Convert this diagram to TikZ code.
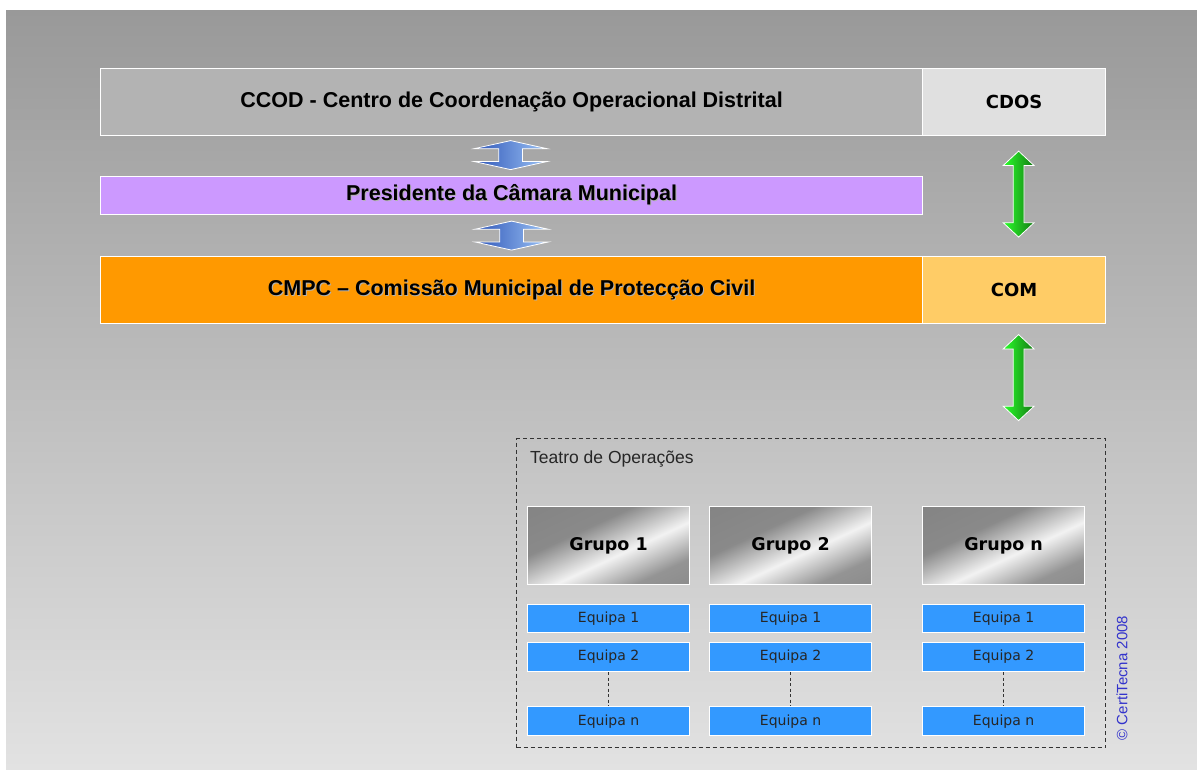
\documentclass[tikz,border=0pt]{standalone}
\usepackage{fontspec}
\setmainfont{Liberation Sans}
\newfontfamily\verdana{DejaVu Sans}
\usetikzlibrary{shapes.arrows, positioning, calc}

\definecolor{ccodgray}{HTML}{B3B3B3}
\definecolor{cdosgray}{HTML}{E0E0E0}
\definecolor{presviolet}{HTML}{CC99FF}
\definecolor{cmpcorange}{HTML}{FF9900}
\definecolor{comyellow}{HTML}{FFCC66}
\definecolor{equipablue}{HTML}{3399FF}
\definecolor{darkgreen}{HTML}{147A14}
\definecolor{lightgreen}{HTML}{2BFF2B}
\definecolor{lightblue}{HTML}{9CC3F5}
\definecolor{darkblue}{HTML}{2F56B8}
\definecolor{copyblue}{HTML}{3333CC}
\definecolor{bgtop}{HTML}{999999}
\definecolor{bgbottom}{HTML}{E2E2E2}

\pgfdeclarehorizontalshading{grupo}{100bp}{color(0bp)=(black!50); color(38bp)=(black!46);
  color(56bp)=(black!5); color(72bp)=(black!42); color(100bp)=(black!50)}

\newcommand{\shadowed}[1]{\makebox[0pt][l]{\kern1pt\raisebox{-1pt}{\textcolor{black!30}{#1}}}#1}

\begin{document}
\begin{tikzpicture}[x=1pt, y=-1pt, inner sep=0pt,
 main box/.style={draw=white, line width=1.2pt, anchor=north west, minimum height=67pt,
   font=\fontsize{21.5}{24}\selectfont\bfseries},
 side box/.style={main box, minimum width=183pt, font=\verdana\fontsize{18}{21}\selectfont\bfseries},
 blue arrow/.style={double arrow, rotate=90, draw=white, line width=0.8pt, left color=darkblue,
   right color=lightblue, minimum height=29pt, inner ysep=11.5pt, inner xsep=0pt,
   double arrow head extend=24.5pt, double arrow tip angle=155},
 green arrow/.style={double arrow, rotate=90, draw=white, line width=0.8pt, left color=lightgreen,
   right color=darkgreen, minimum height=86pt, inner ysep=5pt, inner xsep=0pt,
   double arrow head extend=10pt, double arrow tip angle=94},
 grupo box/.style={draw=white, line width=1.2pt, anchor=north west, minimum width=162pt,
   minimum height=78pt, shading=grupo, shading angle=-65,
   font=\verdana\fontsize{17.5}{20}\selectfont\bfseries},
 equipa box/.style={draw=white, line width=1.2pt, fill=equipablue, minimum width=162pt,
   text=black!85, font=\verdana\fontsize{14}{16}\selectfont}]

  \fill[white] (0,0) rectangle (1197,769);
  \shade[top color=bgtop, bottom color=bgbottom] (6,10) rectangle (1197,769);

  % top rows
  \node[main box, fill=ccodgray, minimum width=822pt] (ccod) at (100,68)
    {\shadowed{CCOD - Centro de Coordenação Operacional Distrital}};
  \node[side box, fill=cdosgray] (cdos) at (922,68) {CDOS};
  \node[main box, fill=presviolet, minimum width=822pt, minimum height=38pt] (pres) at (100,176)
    {\shadowed{Presidente da Câmara Municipal}};
  \node[main box, fill=cmpcorange, minimum width=822pt] (cmpc) at (100,256)
    {\shadowed{CMPC – Comissão Municipal de Protecção Civil}};
  \node[side box, fill=comyellow] (com) at (922,256) {COM};

  % teatro de operacoes
  \node[draw=black!80, line width=1.1pt, dash pattern=on 4pt off 3pt, anchor=north west,
    minimum width=589pt, minimum height=309pt] (teatro) at (516,438) {};
  \node[anchor=base west, font=\fontsize{17.5}{20}\selectfont, text=black!85] (teatrolabel)
    at (530,463) {Teatro de Operações};

  % arrows
  \node[blue arrow] (up1) at ($(ccod.south)!0.5!(pres.north)+(-1,-1)$) {};
  \node[blue arrow] (up2) at ($(pres.south)!0.5!(cmpc.north)$) {};
  \node[green arrow] (gr1) at ($(cdos.south)!0.5!(com.north)+(4.5,-2)$) {};
  \node[green arrow] (gr2) at ($(com.south)!0.5!(teatro.north -| com.south)+(4.5,-3.5)$) {};

  % grupos e equipas
  \foreach \i/\x/\t in {1/527/1, 2/709/2, 3/922/n} {
    \node[grupo box] (grupo\i) at (\x,506) {Grupo \t};
    \node[equipa box, minimum height=28pt, below=18.5pt of grupo\i] (eqa\i) {Equipa 1};
    \node[equipa box, minimum height=29pt, below=9pt of eqa\i] (eqb\i) {Equipa 2};
    \node[equipa box, minimum height=29pt, below=34pt of eqb\i] (eqn\i) {Equipa n};
    \draw[black!80, line width=1pt, dash pattern=on 3pt off 2.5pt] (eqb\i.south) -- (eqn\i.north);
  }

  \node[rotate=90, text=copyblue, font=\fontsize{15}{18}\selectfont] (copy) at (1122,678)
    {© CertiTecna 2008};
\end{tikzpicture}
\end{document}
